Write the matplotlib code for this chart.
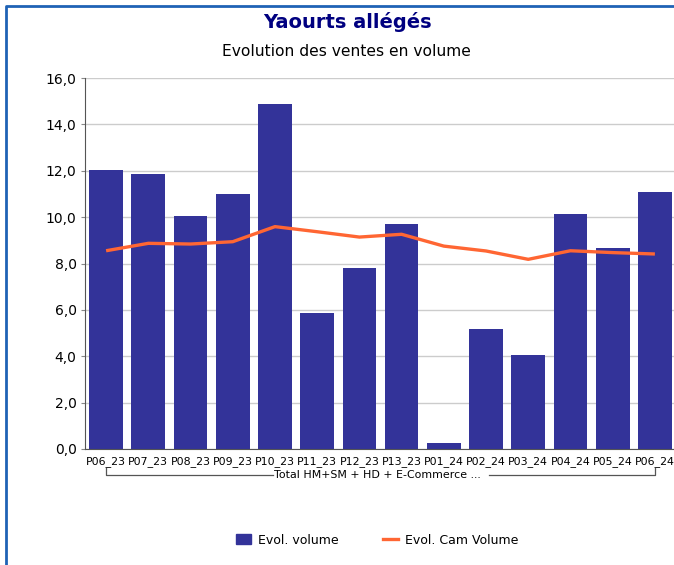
import matplotlib
matplotlib.use("Agg")
import matplotlib.pyplot as plt
import matplotlib.transforms as mtransforms
from matplotlib.lines import Line2D
from matplotlib.patches import Patch

## data

periods = ["P06_23", "P07_23", "P08_23", "P09_23", "P10_23", "P11_23", "P12_23",
           "P13_23", "P01_24", "P02_24", "P03_24", "P04_24", "P05_24", "P06_24"]
evol_volume = [12.03, 11.86, 10.05, 11.0, 14.88, 5.86, 7.8,
               9.7, 0.26, 5.17, 4.05, 10.13, 8.67, 11.08]
evol_cam_volume = [8.55, 8.87, 8.84, 8.94, 9.59, 9.37, 9.14,
                   9.26, 8.75, 8.54, 8.18, 8.55, 8.47, 8.41]
group_label = "Total HM+SM + HD + E-Commerce ..."
y_ticks = [0, 2, 4, 6, 8, 10, 12, 14, 16]

bar_color = "#333399"
line_color = "#FF6633"

## figure

W, H = 674, 565
fig = plt.figure(figsize=(W / 100, H / 100), dpi=100)
ax = fig.add_axes([85 / W, 1 - 449 / H, (676 - 85) / W, (449 - 78) / H])

x = list(range(len(periods)))
ax.bar(x, evol_volume, width=0.8, color=bar_color, zorder=2)
ax.plot(x, evol_cam_volume, color=line_color, lw=2.4, zorder=3, solid_capstyle="butt")

ax.set_xlim(-0.5, len(periods) - 0.5)
ax.set_ylim(0, 16)
ax.set_yticks(y_ticks)
ax.set_yticklabels([f"{v:.1f}".replace(".", ",") for v in y_ticks], fontsize=10)
ax.set_xticks(x)
ax.set_xticklabels(periods, fontsize=7.9)
ax.tick_params(axis="x", length=0, pad=5)
ax.tick_params(axis="y", length=3, color="#888888", pad=3)
ax.grid(axis="y", color="#cccccc", lw=1, zorder=0)
for s in ["top", "right"]:
    ax.spines[s].set_visible(False)
ax.spines["left"].set_color("#555555")
ax.spines["bottom"].set_color("#555555")

## group bracket under the ticks

trans = mtransforms.blended_transform_factory(ax.transData, fig.transFigure)
y_line = 1 - 475 / H
y_top = 1 - 468 / H
gx0 = 0
gx1 = len(periods) - 1
gap_l = (272 - 105) / 42.3
gap_r = (489 - 105) / 42.3
kw = dict(color="#555555", lw=0.9, transform=trans, clip_on=False)
fig.add_artist(Line2D([gx0, gx0, gap_l], [y_top, y_line, y_line], **kw))
fig.add_artist(Line2D([gap_r, gx1, gx1], [y_line, y_line, y_top], **kw))
fig.text(377 / W, y_line, group_label, ha="center", va="center", fontsize=7.9)

## titles

fig.text(347 / W, 1 - 22 / H, "Yaourts allégés", ha="center", va="center",
         fontsize=14, fontweight="bold", color="#000080")
fig.text(346 / W, 1 - 52 / H, "Evolution des ventes en volume", ha="center",
         va="center", fontsize=11.2)

## legend

handles = [Patch(color=bar_color, label="Evol. volume"),
           Line2D([0], [0], color=line_color, lw=2.4, label="Evol. Cam Volume")]
fig.legend(handles=handles, loc="center", bbox_to_anchor=(377 / W, 1 - 540 / H),
           ncol=2, frameon=False, fontsize=9, handlelength=1.2, handleheight=0.9,
           columnspacing=3.5, handletextpad=0.6)

## blue frame

frame_kw = dict(color="#1F62B5", lw=2, transform=fig.transFigure)
fig.add_artist(Line2D([5.5 / W, 5.5 / W, 1.01], [-0.01, 1 - 5.5 / H, 1 - 5.5 / H], **frame_kw))

fig.savefig("out.png", dpi=100)
